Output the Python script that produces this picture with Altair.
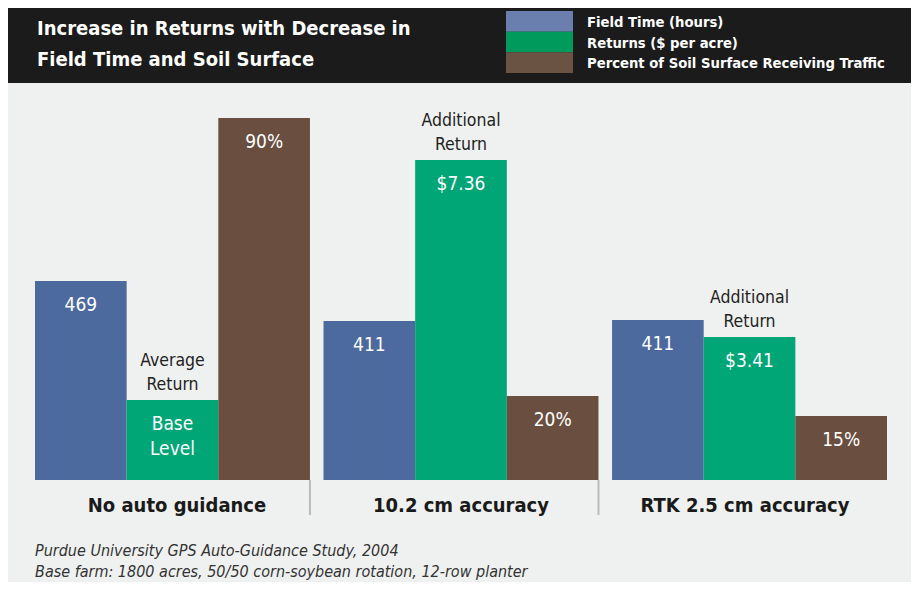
import altair as alt
import pandas as pd

# ---- data ----
groups = ["No auto guidance", "10.2 cm accuracy", "RTK 2.5 cm accuracy"]
series = ["Field Time (hours)", "Returns ($ per acre)", "Percent of Soil Surface Receiving Traffic"]

# drawn bar heights (illustrative units, as drawn in the original)
field_time_height = [199, 159, 160]
returns_height = [80, 320, 143]
traffic_height = [362, 84, 64]

field_time_labels = ["469", "411", "411"]
returns_labels = ["Base\nLevel", "$7.36", "$3.41"]
traffic_labels = ["90%", "20%", "15%"]
returns_notes = ["Average\nReturn", "Additional\nReturn", "Additional\nReturn"]

title_lines = ["Increase in Returns with Decrease in", "Field Time and Soil Surface"]
footnotes = ["Purdue University GPS Auto-Guidance Study, 2004",
             "Base farm: 1800 acres, 50/50 corn-soybean rotation, 12-row planter"]

bar_colors = ["#4d6a9f", "#00a676", "#6a4f41"]
legend_colors = ["#6a7fad", "#009a5c", "#6b5344"]

# ---- tables ----
rows = []
for i, g in enumerate(groups):
    rows.append(dict(group=g, series=series[0], h=field_time_height[i], label=field_time_labels[i], note=""))
    rows.append(dict(group=g, series=series[1], h=returns_height[i], label=returns_labels[i], note=returns_notes[i]))
    rows.append(dict(group=g, series=series[2], h=traffic_height[i], label=traffic_labels[i], note=""))
df = pd.DataFrame(rows)
leg = pd.DataFrame({"series": series})
gdf = pd.DataFrame({"group": groups})

FONT = "DejaVu Sans Condensed, Liberation Sans Narrow, Roboto, sans-serif"
W, H = 903, 574
BASE = 472  # baseline position inside the view

xs = alt.Scale(domain=groups, range=[27, 879], paddingInner=0.047, paddingOuter=0)
xo = alt.Scale(domain=series, paddingInner=0, paddingOuter=0)
ys = alt.Scale(domain=[-(H - BASE), BASE], range=[H, 0], nice=False, zero=False)

X = alt.X("group:N", scale=xs, axis=None)
XO = alt.XOffset("series:N", scale=xo)
Y = alt.Y("h:Q", scale=ys, axis=None)

base = alt.Chart(df)

header = alt.Chart(gdf.head(1)).mark_rect(color="#1b1b1b").encode(
    x=alt.value(0), x2=alt.value(W), y=alt.value(0), y2=alt.value(75))

bars = base.mark_bar(stroke=None).encode(
    x=X, xOffset=XO, y=Y, y2=alt.datum(0),
    color=alt.Color("series:N", scale=alt.Scale(domain=series, range=bar_colors), legend=None),
)

inside = base.mark_text(font=FONT, fontSize=19, color="white", baseline="top", dy=15,
                        lineBreak="\n", lineHeight=25).encode(
    x=X, xOffset=XO, y=Y, text="label:N")

above = base.transform_filter(alt.datum.note != "").mark_text(
    font=FONT, fontSize=17.5, color="#222222", baseline="bottom", dy=-30,
    lineBreak="\n", lineHeight=24).encode(x=X, xOffset=XO, y=Y, text="note:N")

glabels = alt.Chart(gdf).mark_text(font=FONT, fontSize=20, fontWeight="bold",
                                   color="#1a1a1a", baseline="middle").encode(
    x=X, y=alt.value(498), text="group:N")

seps = alt.Chart(gdf).transform_filter(alt.datum.group != groups[-1]).mark_rule(
    color="#bbbbbb", strokeWidth=2).encode(
    x=alt.X("group:N", scale=xs, axis=None, bandPosition=1),
    y=alt.value(472), y2=alt.value(507))

tdf = pd.DataFrame({"t": title_lines, "i": [0, 1]})
title = alt.Chart(tdf).mark_text(font=FONT, fontSize=20, fontWeight="bold", color="white",
                                 align="left", baseline="middle").encode(
    x=alt.value(29),
    y=alt.Y("i:O", scale=alt.Scale(domain=[0, 1], range=[5, 67], paddingOuter=0.5), axis=None),
    text="t:N")

LS = alt.Scale(domain=series, range=[3, 65], paddingInner=0, paddingOuter=0)
lsw = alt.Chart(leg).mark_rect().encode(
    x=alt.value(498), x2=alt.value(565),
    y=alt.Y("series:N", scale=LS, axis=None),
    color=alt.Color("series:N", scale=alt.Scale(domain=series, range=legend_colors), legend=None))

ltxt = alt.Chart(leg).mark_text(font=FONT, fontSize=14.7, fontWeight="bold", color="white",
                                align="left", baseline="middle", dy=1.5).encode(
    x=alt.value(579),
    y=alt.Y("series:N", scale=LS, axis=None),
    text="series:N")

fdf = pd.DataFrame({"t": footnotes, "i": [0, 1]})
foot = alt.Chart(fdf).mark_text(font=FONT, fontSize=16, fontStyle="italic", color="#333333",
                                align="left", baseline="middle").encode(
    x=alt.value(27),
    y=alt.Y("i:O", scale=alt.Scale(domain=[0, 1], range=[532, 574], paddingOuter=0.5), axis=None),
    text="t:N")

chart = alt.layer(header, bars, inside, above, glabels, seps, title, lsw, ltxt, foot).resolve_scale(
    y="independent", color="independent", x="independent"
).properties(
    width=W, height=H, autosize=alt.AutoSizeParams(type="none"), padding=0,
    background="#eff1f0"
).configure_view(stroke=None)

chart.save("out.html", embed_options={"renderer": "svg", "actions": False})
